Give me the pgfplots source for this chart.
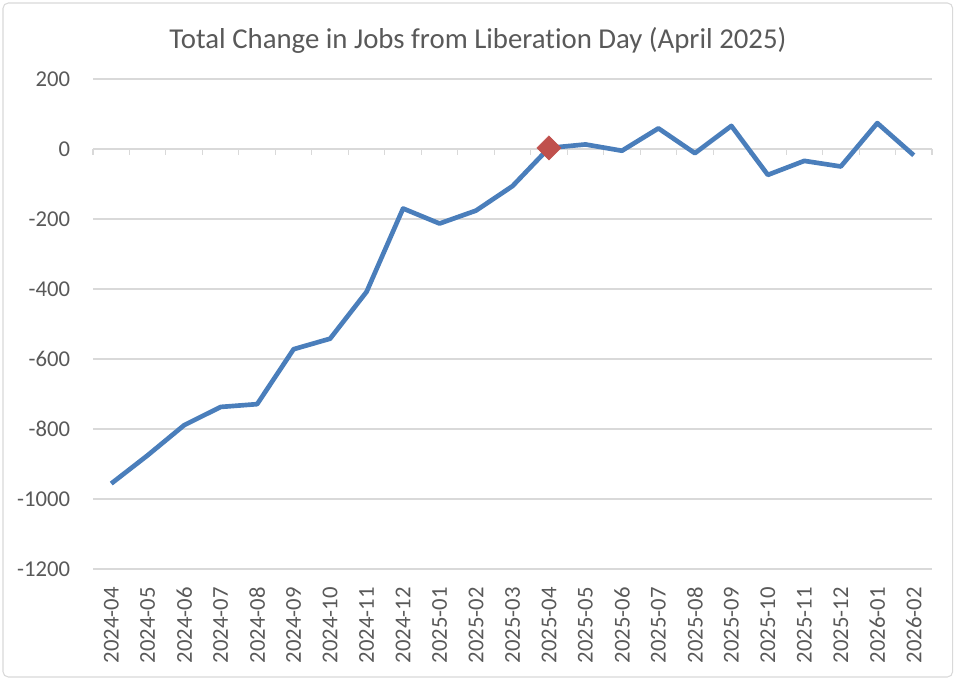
\documentclass[border=0pt]{standalone}
\usepackage{pgfplots}
\pgfplotsset{compat=1.18}
\usepackage{fontspec}
\setmainfont{Carlito}[Ligatures=NoCommon]

\definecolor{linebl}{HTML}{4A7EBB}
\definecolor{markred}{HTML}{C0504D}
\definecolor{txtgray}{HTML}{595959}
\definecolor{gridgray}{HTML}{D9D9D9}

\begin{document}
\begin{tikzpicture}
    % 1px = 0.75pt, page is 956x680 px
    \useasboundingbox (0,0) rectangle (717pt,510pt);
    \draw[gridgray, line width=0.8pt, rounded corners=4pt] (2.25pt,2.25pt) rectangle (714.5pt,507.75pt);

    \node[text=txtgray, font=\fontsize{21.6}{25}\selectfont] at (358.5pt,480pt)
        {Total Change in Jobs from Liberation Day (April 2025)};

    \begin{axis}[
        at={(69.75pt,83.25pt)}, anchor=south west,
        scale only axis,
        width=629.25pt, height=367.5pt,
        xmin=-0.5, xmax=22.5,
        ymin=-1200, ymax=200,
        axis line style={draw=none},
        ytick={-1200,-1000,-800,-600,-400,-200,0,200},
        yticklabels={-1200,-1000,-800,-600,-400,-200,0,200},
        xtick={0,...,22},
        xticklabels={2024-04,2024-05,2024-06,2024-07,2024-08,2024-09,2024-10,2024-11,2024-12,2025-01,2025-02,2025-03,2025-04,2025-05,2025-06,2025-07,2025-08,2025-09,2025-10,2025-11,2025-12,2026-01,2026-02},
        major tick length=0pt,
        ymajorgrids=true,
        grid style={gridgray, line width=0.8pt},
        tick label style={text=txtgray, font=\fontsize{17}{20}\selectfont, inner sep=0pt},
        xticklabel style={rotate=90, anchor=east},
        xticklabel shift=13.5pt,
        yticklabel style={anchor=east},
        yticklabel shift=17pt,
        clip=false,
        ]

    \pgfplotsinvokeforeach{-0.5,0.5,...,22.5}{
        \draw[gridgray, line width=0.8pt] (axis cs:#1,0) -- ++(0pt,-4.5pt);
    }

    \addplot[color=linebl, line width=3.5pt, line join=round, mark=none]
        coordinates {(0,-956)(1,-875)(2,-789)(3,-737)(4,-729)(5,-572)(6,-542)(7,-408)(8,-170)(9,-213)(10,-176)(11,-106)(12,3)(13,13)(14,-5)(15,59)(16,-12)(17,66)(18,-74)(19,-34)(20,-50)(21,74)(22,-18)};

    \addplot[draw=none, mark=square*, mark size=6.4pt, mark options={fill=markred, draw=markred, rotate=45}]
        coordinates {(12,3)};

    \end{axis}
\end{tikzpicture}
\end{document}
